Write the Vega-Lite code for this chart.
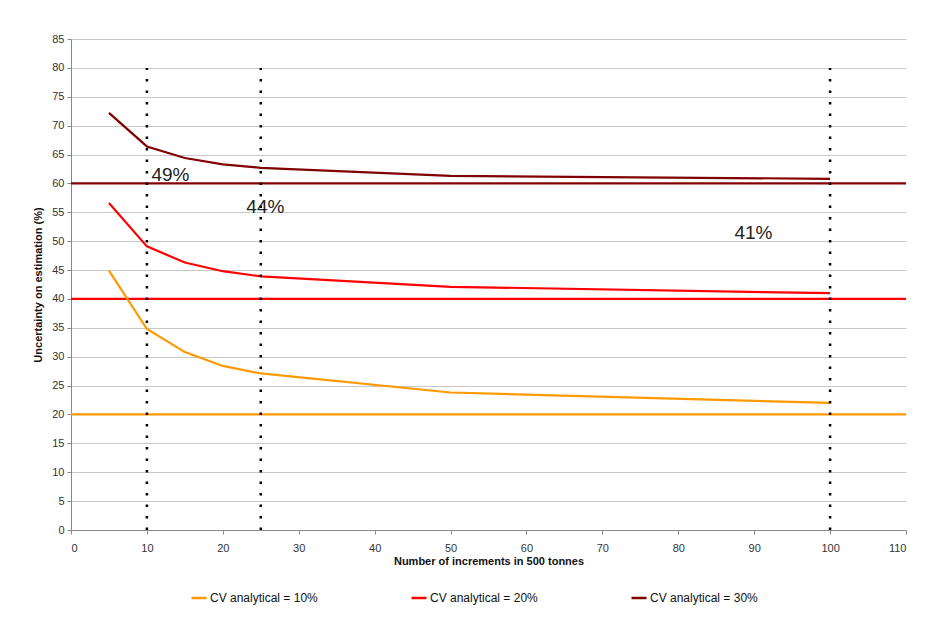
{
  "$schema": "https://vega.github.io/schema/vega-lite/v6.json",
  "width": 835,
  "height": 491,
  "autosize": {"type": "none"},
  "padding": {"left": 71, "top": 39, "right": 21, "bottom": 87},
  "background": "white",
  "config": {
    "font": "Liberation Sans",
    "view": {"stroke": null},
    "axis": {
      "labelFont": "Liberation Sans",
      "labelFontSize": 11,
      "labelColor": "#333333",
      "titleFont": "Liberation Sans",
      "titleFontSize": 11,
      "titleFontWeight": "bold",
      "titleColor": "#111111",
      "domainColor": "#888888",
      "tickColor": "#888888",
      "gridColor": "#c8c8c8"
    }
  },
  "datasets": {
    "curves": [
      {"n": 5, "u": 44.9, "series": "CV analytical  = 10%"},
      {"n": 10, "u": 34.8, "series": "CV analytical  = 10%"},
      {"n": 15, "u": 30.8, "series": "CV analytical  = 10%"},
      {"n": 20, "u": 28.4, "series": "CV analytical  = 10%"},
      {"n": 25, "u": 27.1, "series": "CV analytical  = 10%"},
      {"n": 50, "u": 23.8, "series": "CV analytical  = 10%"},
      {"n": 100, "u": 22.0, "series": "CV analytical  = 10%"},
      {"n": 5, "u": 56.6, "series": "CV analytical  = 20%"},
      {"n": 10, "u": 49.1, "series": "CV analytical  = 20%"},
      {"n": 15, "u": 46.3, "series": "CV analytical  = 20%"},
      {"n": 20, "u": 44.8, "series": "CV analytical  = 20%"},
      {"n": 25, "u": 43.9, "series": "CV analytical  = 20%"},
      {"n": 50, "u": 42.1, "series": "CV analytical  = 20%"},
      {"n": 100, "u": 41.0, "series": "CV analytical  = 20%"},
      {"n": 5, "u": 72.2, "series": "CV analytical  = 30%"},
      {"n": 10, "u": 66.4, "series": "CV analytical  = 30%"},
      {"n": 15, "u": 64.4, "series": "CV analytical  = 30%"},
      {"n": 20, "u": 63.3, "series": "CV analytical  = 30%"},
      {"n": 25, "u": 62.7, "series": "CV analytical  = 30%"},
      {"n": 50, "u": 61.3, "series": "CV analytical  = 30%"},
      {"n": 100, "u": 60.8, "series": "CV analytical  = 30%"}
    ],
    "baselines": [
      {"n": 0, "u": 20, "series": "CV analytical  = 10%"},
      {"n": 110, "u": 20, "series": "CV analytical  = 10%"},
      {"n": 0, "u": 40, "series": "CV analytical  = 20%"},
      {"n": 110, "u": 40, "series": "CV analytical  = 20%"},
      {"n": 0, "u": 60, "series": "CV analytical  = 30%"},
      {"n": 110, "u": 60, "series": "CV analytical  = 30%"}
    ],
    "markers": [
      {"n": 10, "u": 0, "u2": 80},
      {"n": 25, "u": 0, "u2": 80},
      {"n": 100, "u": 0, "u2": 80}
    ],
    "labels": [
      {"n": 10.6, "u": 61.4, "label": "49%"},
      {"n": 23.1, "u": 55.9, "label": "44%"},
      {"n": 87.4, "u": 51.4, "label": "41%"}
    ]
  },
  "encoding": {
    "x": {
      "field": "n",
      "type": "quantitative",
      "scale": {"domain": [0, 110], "nice": false, "zero": true},
      "axis": {
        "title": "Number of increments in 500 tonnes",
        "values": [0, 10, 20, 30, 40, 50, 60, 70, 80, 90, 100, 110],
        "grid": false,
        "tickSize": 4,
        "labelPadding": 8,
        "titlePadding": 2
      }
    },
    "y": {
      "field": "u",
      "type": "quantitative",
      "scale": {"domain": [0, 85], "nice": false},
      "axis": {
        "title": "Uncertainty on estimation (%)",
        "values": [0, 5, 10, 15, 20, 25, 30, 35, 40, 45, 50, 55, 60, 65, 70, 75, 80, 85],
        "labelOverlap": false,
        "grid": true,
        "tickSize": 4,
        "labelPadding": 3,
        "titlePadding": 8
      }
    }
  },
  "layer": [
    {
      "data": {"name": "baselines"},
      "mark": {"type": "line", "strokeWidth": 2.2},
      "encoding": {
        "color": {
          "field": "series",
          "type": "nominal",
          "scale": {
            "domain": ["CV analytical  = 10%", "CV analytical  = 20%", "CV analytical  = 30%"],
            "range": ["#FF9900", "#FF0000", "#800000"]
          },
          "legend": {
            "title": null,
            "orient": "none",
            "legendX": 119,
            "legendY": 550,
            "direction": "horizontal",
            "columns": 3,
            "gridAlign": "all",
            "columnPadding": 84,
            "symbolType": "stroke",
            "symbolSize": 225,
            "symbolStrokeWidth": 2.5,
            "labelFont": "Liberation Sans",
            "labelFontSize": 12,
            "labelColor": "#111111",
            "labelOffset": 2
          }
        }
      }
    },
    {
      "data": {"name": "curves"},
      "mark": {"type": "line", "strokeWidth": 2.2},
      "encoding": {
        "color": {"field": "series", "type": "nominal"}
      }
    },
    {
      "data": {"name": "markers"},
      "mark": {"type": "rule", "color": "#000000", "strokeWidth": 2.5, "strokeDash": [2.5, 9]},
      "encoding": {
        "y2": {"field": "u2"}
      }
    },
    {
      "data": {"name": "labels"},
      "mark": {"type": "text", "align": "left", "baseline": "middle", "fontSize": 19, "font": "Liberation Sans", "color": "#222222"},
      "encoding": {
        "text": {"field": "label"}
      }
    }
  ]
}
